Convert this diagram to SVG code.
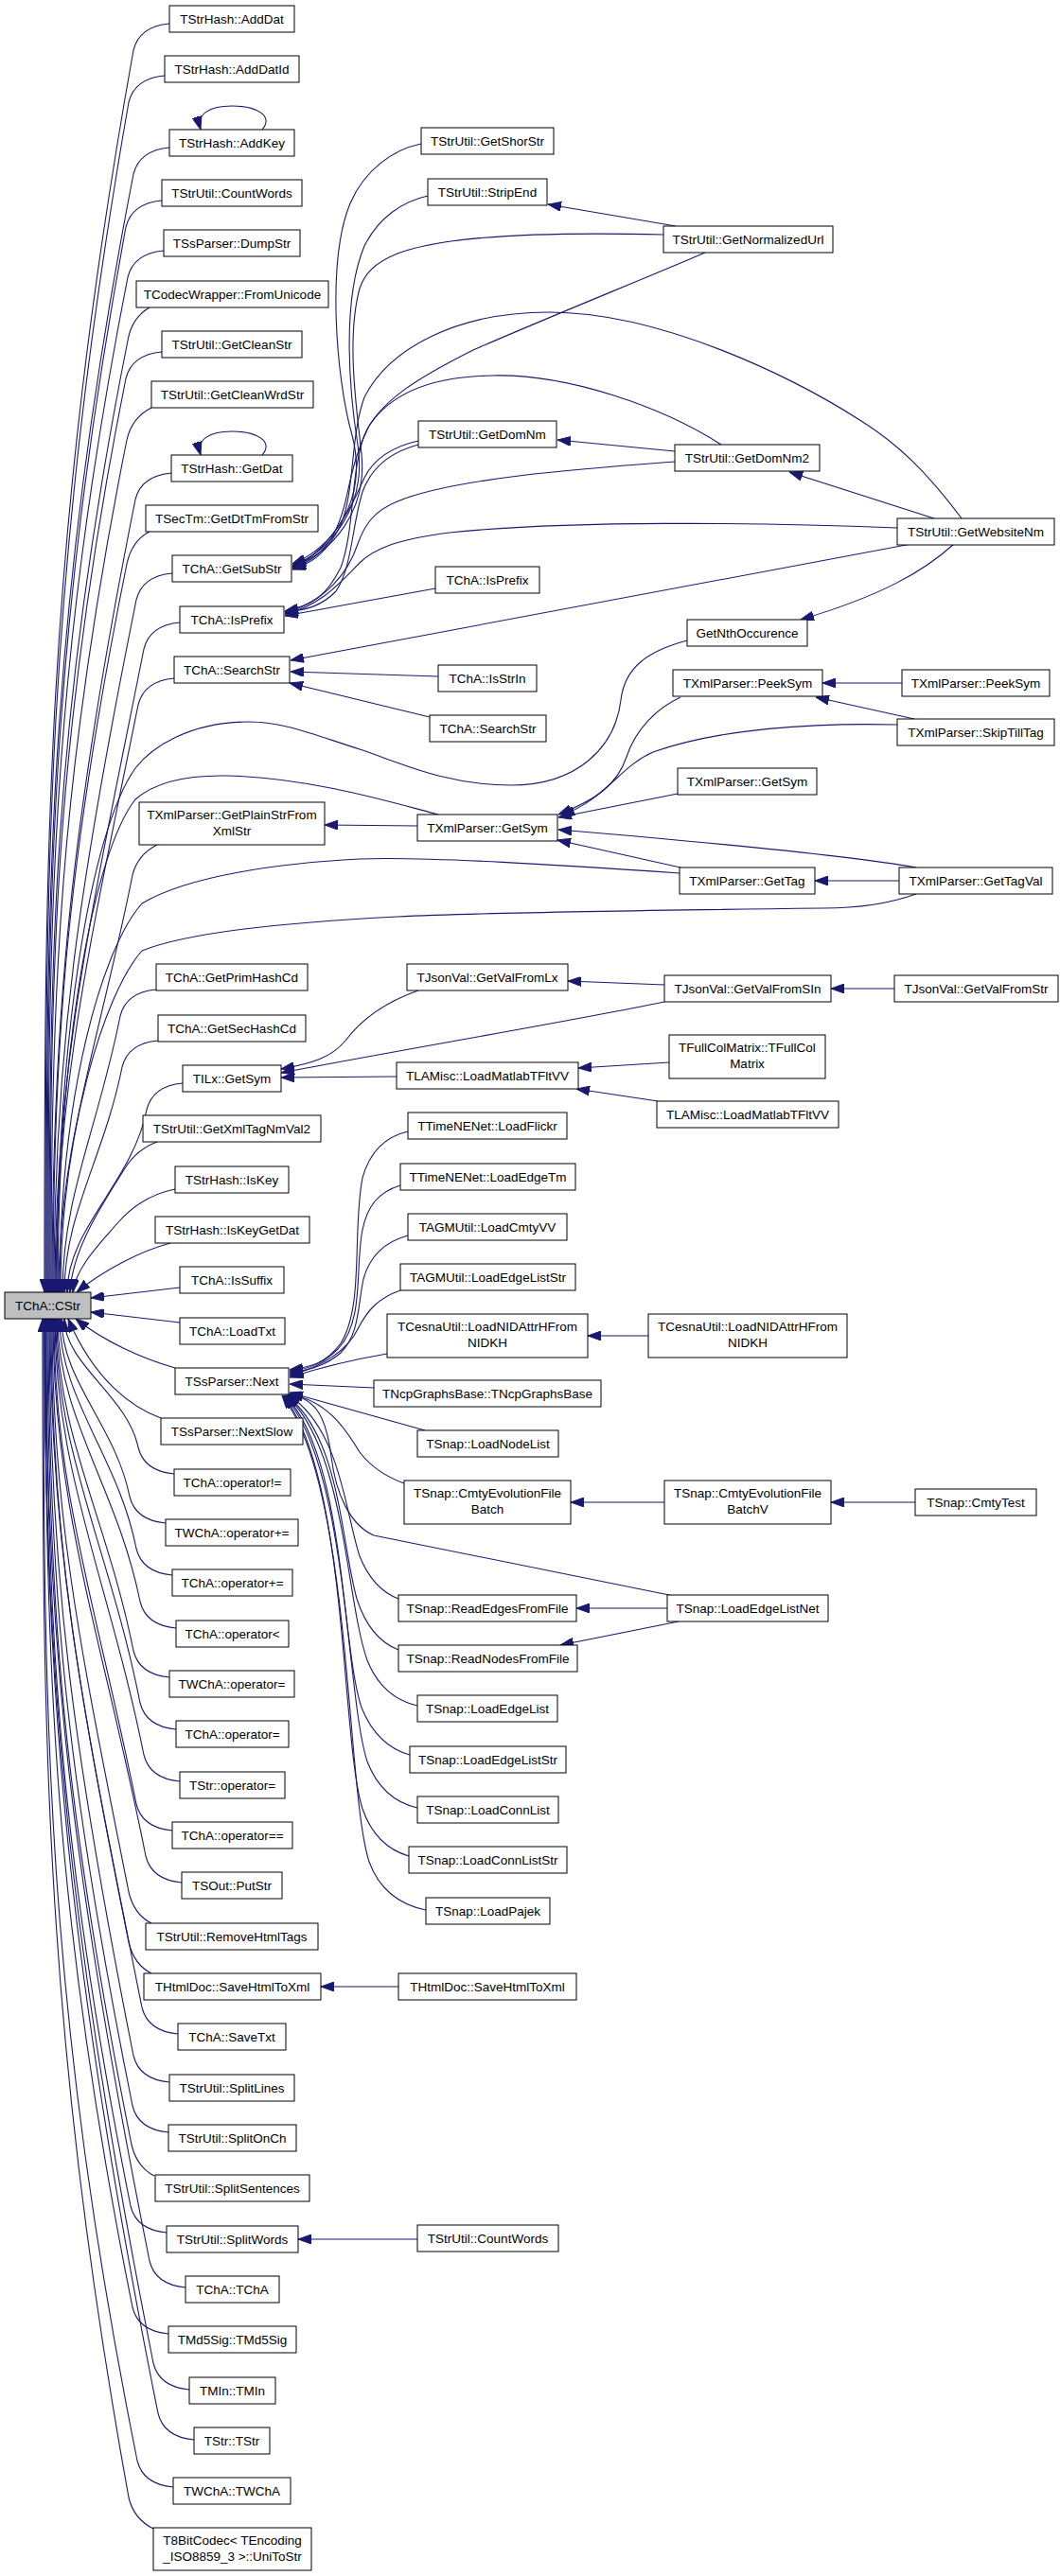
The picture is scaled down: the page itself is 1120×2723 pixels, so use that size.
<svg xmlns="http://www.w3.org/2000/svg" width="1120" height="2723" viewBox="0 0 1120 2723">
<defs>
<marker id="a" markerWidth="14" markerHeight="10" refX="14" refY="5" orient="auto" markerUnits="userSpaceOnUse"><path d="M0,0 L14,5 L0,10 z" fill="#191970" stroke="#191970" stroke-width="1"/></marker>
</defs>
<style>
.n rect{fill:#fff;stroke:#000;stroke-width:1}
.n text{font-family:"Liberation Sans",Arial,sans-serif;font-size:13.5px;text-anchor:middle;fill:#000}
#edges path{fill:none;stroke:#191970;stroke-width:1.1;marker-end:url(#a)}
#n_CStr rect{fill:#bfbfbf}
</style>
<rect x="0" y="0" width="1120" height="2723" fill="#fff"/>
<g id="edges">
<path d="M179,25 C157,27 145,37 141,53 C47,578 47,906 47,1366"/>
<path d="M174,80 C152,82 140,92 136,108 C48,611 48,926 48,1366"/>
<path d="M179,156 C157,158 145,168 141,184 C49,657 49,952 49,1366"/>
<path d="M171,212 C149,214 137,224 133,240 C50,690 50,972 50,1366"/>
<path d="M173,265 C151,267 139,277 135,293 C51,722 51,990 51,1366"/>
<path d="M158,325 C146,332 138,342 135,360 C55,762 52,1014 52,1366"/>
<path d="M171,372 C149,374 137,384 133,400 C56,786 53,1028 53,1366"/>
<path d="M160,431 C148,437 138,447 134,465 C62,825 54,1051 54,1366"/>
<path d="M181,500 C159,502 147,512 143,528 C76,863 55,1073 55,1366"/>
<path d="M158,562 C146,568 138,578 134,596 C72,904 56,1096 56,1366"/>
<path d="M182,606 C160,608 148,618 144,634 C85,927 57,1110 57,1366"/>
<path d="M190,658 C168,660 156,670 152,686 C98,958 58,1128 58,1366"/>
<path d="M184,717 C162,719 150,729 146,745 C96,993 59,1149 59,1366"/>
<path d="M726,677 C685,688 660,705 656,740 C650,790 610,830 540,830 C470,830 420,805 380,792 C330,776 300,763 263,763 C200,763 160,790 143,812 C95,880 60,1100 60,1366"/>
<path d="M463,861 C420,850 330,822 240,820 C190,819 160,830 143,845 C100,900 61,1100 61,1366"/>
<path d="M166,893 C154,899 144,909 140,925 C105,1101 62,1212 62,1366"/>
<path d="M718,923 C600,915 450,905 380,908 C300,912 200,925 150,955 C110,1000 63,1150 63,1366"/>
<path d="M968,945 C940,955 910,960 870,960 C700,962 500,965 420,969 C300,975 200,985 150,1005 C110,1050 64,1200 64,1366"/>
<path d="M165,1046 C143,1048 131,1058 127,1074 C104,1191 66,1264 66,1366"/>
<path d="M167,1100 C145,1102 133,1112 129,1128 C110,1223 68,1283 68,1366"/>
<path d="M193,1145 C171,1147 159,1157 155,1173 C140,1250 71,1298 71,1366"/>
<path d="M166,1207 C150,1213 140,1222 132,1235 C110,1270 76,1320 74,1366"/>
<path d="M185,1257 C160,1262 140,1275 125,1292 C105,1315 80,1340 77,1366"/>
<path d="M180,1314 C150,1322 110,1342 81,1366"/>
<path d="M190,1361 L96,1372"/>
<path d="M190,1398 L96,1387"/>
<path d="M185,1446 C150,1436 110,1418 80,1394"/>
<path d="M170,1499 C140,1488 100,1460 72,1394"/>
<path d="M184,1558 C162,1556 150,1546 146,1530 C135,1476 68,1442 68,1394"/>
<path d="M175,1610 C153,1608 141,1598 137,1582 C122,1507 65,1460 65,1394"/>
<path d="M182,1665 C160,1663 148,1653 144,1637 C125,1540 63,1479 63,1394"/>
<path d="M186,1721 C164,1719 152,1709 148,1693 C124,1573 61,1499 61,1394"/>
<path d="M179,1773 C157,1771 145,1761 141,1745 C113,1605 60,1517 60,1394"/>
<path d="M186,1828 C164,1826 152,1816 148,1800 C116,1638 59,1536 59,1394"/>
<path d="M190,1883 C168,1881 156,1871 152,1855 C115,1671 58,1555 58,1394"/>
<path d="M182,1935 C160,1933 148,1923 144,1907 C103,1702 57,1574 57,1394"/>
<path d="M192,1990 C170,1988 158,1978 154,1962 C109,1735 56,1593 56,1394"/>
<path d="M160,2033 C148,2027 140,2017 136,2000 C88,1758 55,1606 55,1394"/>
<path d="M160,2086 C148,2080 140,2070 136,2053 C83,1789 54,1625 54,1394"/>
<path d="M188,2150 C166,2148 154,2138 150,2122 C92,1831 53,1649 53,1394"/>
<path d="M179,2201 C157,2199 145,2189 141,2173 C79,1861 52,1667 52,1394"/>
<path d="M178,2254 C156,2252 144,2242 140,2226 C73,1893 51,1685 51,1394"/>
<path d="M163,2300 C151,2294 143,2284 139,2267 C69,1918 50,1700 50,1394"/>
<path d="M176,2360 C154,2358 142,2348 138,2332 C63,1957 49,1722 49,1394"/>
<path d="M196,2418 C174,2416 162,2406 158,2390 C78,1992 48,1743 48,1394"/>
<path d="M178,2467 C156,2465 144,2455 140,2439 C56,2021 48,1760 48,1394"/>
<path d="M200,2526 C178,2524 166,2514 162,2498 C74,2056 47,1780 47,1394"/>
<path d="M205,2579 C183,2577 171,2567 167,2551 C74,2088 47,1799 47,1394"/>
<path d="M183,2629 C161,2627 149,2617 145,2601 C48,2118 46,1816 46,1394"/>
<path d="M162,2673 C150,2667 140,2657 136,2640 C46,2142 45,1830 45,1394"/>
<path d="M277,137 C290,122 270,112 245,112 C222,112 207,120 212,137"/>
<path d="M277,481 C290,466 270,456 245,456 C222,456 207,464 212,481"/>
<path d="M445,152 C415,158 385,180 370,215 C345,275 355,400 372,460 C390,530 350,580 309,596"/>
<path d="M452,207 C425,213 400,230 385,260 C360,320 370,420 378,470 C388,535 350,582 309,598"/>
<path d="M701,248 C620,246 480,245 420,268 C395,278 385,290 380,305 C365,360 378,440 382,480 C388,540 352,584 309,599"/>
<path d="M442,466 C415,472 395,485 385,505 C370,540 345,585 309,600"/>
<path d="M762,470 C700,430 600,395 520,397 C450,398 410,420 390,450 C375,480 372,500 365,530 C355,570 340,590 309,601"/>
<path d="M1016,548 C980,500 950,470 910,445 C840,400 700,330 580,330 C480,330 410,370 385,420 C370,460 375,520 360,555 C345,585 330,595 309,602"/>
<path d="M745,267 C680,295 580,335 500,370 C440,400 400,425 385,460 C370,500 375,560 360,600 C345,630 330,640 301,646"/>
<path d="M442,470 C412,478 392,495 383,520 C372,555 372,600 355,625 C340,640 325,645 301,647"/>
<path d="M713,488 C620,495 480,505 420,530 C395,540 385,555 378,575 C368,605 345,635 301,648"/>
<path d="M948,558 C800,552 600,550 475,563 C420,570 395,580 380,595 C360,615 340,640 301,649"/>
<path d="M460,622 L301,651"/>
<path d="M963,575 L307,698"/>
<path d="M463,715 L307,710"/>
<path d="M454,758 L306,722"/>
<path d="M714,239 L579,216"/>
<path d="M713,477 L589,465"/>
<path d="M987,548 L834,499"/>
<path d="M1008,575 C975,605 930,630 846,655"/>
<path d="M441,873 L343,872"/>
<path d="M719,737 C695,748 672,770 662,800 C652,830 630,845 590,861"/>
<path d="M948,766 C860,764 760,770 690,795 C655,810 640,845 593,862"/>
<path d="M716,839 L590,864"/>
<path d="M968,917 C900,905 780,893 590,877"/>
<path d="M719,917 L589,888"/>
<path d="M953,722 L869,722"/>
<path d="M966,760 L862,737"/>
<path d="M950,931 L861,931"/>
<path d="M442,1047 C405,1060 380,1080 365,1100 C350,1118 330,1124 297,1130"/>
<path d="M702,1059 C600,1080 450,1105 297,1134"/>
<path d="M419,1138 L297,1139"/>
<path d="M702,1041 L600,1037"/>
<path d="M945,1045 L878,1045"/>
<path d="M707,1123 L611,1129"/>
<path d="M695,1164 L609,1151"/>
<path d="M431,1196 C405,1202 390,1220 383,1245 C372,1300 385,1380 360,1420 C345,1440 330,1445 306,1448"/>
<path d="M423,1253 C400,1260 388,1275 383,1300 C375,1340 385,1395 358,1425 C343,1440 330,1446 306,1450"/>
<path d="M431,1306 C405,1313 390,1330 384,1352 C378,1380 380,1410 360,1430 C345,1443 330,1447 306,1452"/>
<path d="M423,1364 C400,1372 388,1385 378,1405 C368,1425 345,1443 306,1454"/>
<path d="M409,1431 C380,1436 340,1445 306,1456"/>
<path d="M395,1467 L306,1463"/>
<path d="M449,1512 L306,1472"/>
<path d="M427,1568 C405,1560 390,1548 380,1535 C365,1510 345,1480 306,1474"/>
<path d="M712,1687 L395,1623 C370,1612 355,1580 350,1540 C345,1500 335,1478 305,1474"/>
<path d="M421,1690 C400,1682 388,1665 380,1645 C365,1600 360,1510 304,1474"/>
<path d="M421,1744 C398,1735 385,1715 377,1690 C360,1630 360,1520 303,1475"/>
<path d="M441,1803 C415,1797 398,1780 388,1755 C365,1690 365,1530 302,1475"/>
<path d="M433,1855 C408,1848 392,1830 382,1805 C360,1740 365,1540 301,1475"/>
<path d="M441,1911 C415,1905 398,1888 388,1862 C365,1790 368,1550 300,1475"/>
<path d="M432,1962 C408,1955 392,1938 383,1912 C360,1840 368,1560 299,1475"/>
<path d="M450,2019 C420,2013 400,1995 390,1968 C365,1890 372,1570 298,1475"/>
<path d="M685,1412 L621,1412"/>
<path d="M702,1588 L603,1588"/>
<path d="M967,1588 L878,1588"/>
<path d="M705,1700 L609,1700"/>
<path d="M717,1714 L592,1739"/>
<path d="M421,2100 L339,2100"/>
<path d="M441,2367 L315,2367"/>
</g>
<g id="n_CStr" class="n"><rect x="5" y="1366" width="91" height="28"/><text x="50.5" y="1385">TChA::CStr</text></g>
<g id="n_AddDat" class="n"><rect x="179" y="6" width="132" height="28"/><text x="245" y="25">TStrHash::AddDat</text></g>
<g id="n_AddDatId" class="n"><rect x="174" y="59" width="142" height="28"/><text x="245" y="78">TStrHash::AddDatId</text></g>
<g id="n_AddKey" class="n"><rect x="179" y="137" width="132" height="28"/><text x="245" y="156">TStrHash::AddKey</text></g>
<g id="n_CountWords" class="n"><rect x="171" y="190" width="148" height="28"/><text x="245" y="209">TStrUtil::CountWords</text></g>
<g id="n_DumpStr" class="n"><rect x="173" y="243" width="144" height="28"/><text x="245" y="262">TSsParser::DumpStr</text></g>
<g id="n_FromUnicode" class="n"><rect x="144" y="297" width="203" height="28"/><text x="245.5" y="316">TCodecWrapper::FromUnicode</text></g>
<g id="n_GetCleanStr" class="n"><rect x="171" y="350" width="148" height="28"/><text x="245" y="369">TStrUtil::GetCleanStr</text></g>
<g id="n_GetCleanWrdStr" class="n"><rect x="160" y="403" width="171" height="28"/><text x="245.5" y="422">TStrUtil::GetCleanWrdStr</text></g>
<g id="n_GetDat" class="n"><rect x="181" y="481" width="128" height="28"/><text x="245" y="500">TStrHash::GetDat</text></g>
<g id="n_GetDtTmFromStr" class="n"><rect x="154" y="534" width="182" height="28"/><text x="245" y="553">TSecTm::GetDtTmFromStr</text></g>
<g id="n_GetSubStr" class="n"><rect x="182" y="587" width="126" height="28"/><text x="245" y="606">TChA::GetSubStr</text></g>
<g id="n_IsPrefix" class="n"><rect x="190" y="641" width="110" height="28"/><text x="245" y="660">TChA::IsPrefix</text></g>
<g id="n_SearchStr" class="n"><rect x="184" y="694" width="122" height="28"/><text x="245" y="713">TChA::SearchStr</text></g>
<g id="n_GetPlainStr" class="n"><rect x="147" y="848" width="196" height="45"/><text x="245" y="866">TXmlParser::GetPlainStrFrom</text><text x="245" y="883">XmlStr</text></g>
<g id="n_GetPrimHashCd" class="n"><rect x="165" y="1019" width="160" height="28"/><text x="245" y="1038">TChA::GetPrimHashCd</text></g>
<g id="n_GetSecHashCd" class="n"><rect x="167" y="1073" width="156" height="28"/><text x="245" y="1092">TChA::GetSecHashCd</text></g>
<g id="n_TILxGetSym" class="n"><rect x="193" y="1126" width="104" height="28"/><text x="245" y="1145">TILx::GetSym</text></g>
<g id="n_GetXmlTagNmVal2" class="n"><rect x="151" y="1179" width="188" height="28"/><text x="245" y="1198">TStrUtil::GetXmlTagNmVal2</text></g>
<g id="n_IsKey" class="n"><rect x="185" y="1233" width="120" height="28"/><text x="245" y="1252">TStrHash::IsKey</text></g>
<g id="n_IsKeyGetDat" class="n"><rect x="164" y="1286" width="163" height="28"/><text x="245.5" y="1305">TStrHash::IsKeyGetDat</text></g>
<g id="n_IsSuffix" class="n"><rect x="190" y="1339" width="110" height="28"/><text x="245" y="1358">TChA::IsSuffix</text></g>
<g id="n_LoadTxt" class="n"><rect x="190" y="1393" width="111" height="28"/><text x="245.5" y="1412">TChA::LoadTxt</text></g>
<g id="n_Next" class="n"><rect x="185" y="1446" width="120" height="28"/><text x="245" y="1465">TSsParser::Next</text></g>
<g id="n_NextSlow" class="n"><rect x="170" y="1499" width="150" height="28"/><text x="245" y="1518">TSsParser::NextSlow</text></g>
<g id="n_OpNe" class="n"><rect x="184" y="1553" width="123" height="28"/><text x="245.5" y="1572">TChA::operator!=</text></g>
<g id="n_WOpPlusEq" class="n"><rect x="175" y="1606" width="140" height="28"/><text x="245" y="1625">TWChA::operator+=</text></g>
<g id="n_OpPlusEq" class="n"><rect x="182" y="1659" width="127" height="28"/><text x="245.5" y="1678">TChA::operator+=</text></g>
<g id="n_OpLt" class="n"><rect x="186" y="1713" width="119" height="28"/><text x="245.5" y="1732">TChA::operator&lt;</text></g>
<g id="n_WOpEq" class="n"><rect x="179" y="1766" width="132" height="28"/><text x="245" y="1785">TWChA::operator=</text></g>
<g id="n_OpEq" class="n"><rect x="186" y="1819" width="119" height="28"/><text x="245.5" y="1838">TChA::operator=</text></g>
<g id="n_TStrOpEq" class="n"><rect x="190" y="1873" width="111" height="28"/><text x="245.5" y="1892">TStr::operator=</text></g>
<g id="n_OpEqEq" class="n"><rect x="182" y="1926" width="127" height="28"/><text x="245.5" y="1945">TChA::operator==</text></g>
<g id="n_PutStr" class="n"><rect x="192" y="1979" width="106" height="28"/><text x="245" y="1998">TSOut::PutStr</text></g>
<g id="n_RemoveHtmlTags" class="n"><rect x="154" y="2033" width="182" height="28"/><text x="245" y="2052">TStrUtil::RemoveHtmlTags</text></g>
<g id="n_SaveHtmlToXml" class="n"><rect x="152" y="2086" width="187" height="28"/><text x="245.5" y="2105">THtmlDoc::SaveHtmlToXml</text></g>
<g id="n_SaveTxt" class="n"><rect x="188" y="2139" width="114" height="28"/><text x="245" y="2158">TChA::SaveTxt</text></g>
<g id="n_SplitLines" class="n"><rect x="179" y="2193" width="132" height="28"/><text x="245" y="2212">TStrUtil::SplitLines</text></g>
<g id="n_SplitOnCh" class="n"><rect x="178" y="2246" width="135" height="28"/><text x="245.5" y="2265">TStrUtil::SplitOnCh</text></g>
<g id="n_SplitSentences" class="n"><rect x="164" y="2299" width="163" height="28"/><text x="245.5" y="2318">TStrUtil::SplitSentences</text></g>
<g id="n_SplitWords" class="n"><rect x="176" y="2353" width="139" height="28"/><text x="245.5" y="2372">TStrUtil::SplitWords</text></g>
<g id="n_TChA" class="n"><rect x="196" y="2406" width="99" height="28"/><text x="245.5" y="2425">TChA::TChA</text></g>
<g id="n_TMd5Sig" class="n"><rect x="178" y="2459" width="135" height="28"/><text x="245.5" y="2478">TMd5Sig::TMd5Sig</text></g>
<g id="n_TMIn" class="n"><rect x="200" y="2513" width="91" height="28"/><text x="245.5" y="2532">TMIn::TMIn</text></g>
<g id="n_TStr" class="n"><rect x="205" y="2566" width="80" height="28"/><text x="245" y="2585">TStr::TStr</text></g>
<g id="n_TWChA" class="n"><rect x="183" y="2619" width="124" height="28"/><text x="245" y="2638">TWChA::TWChA</text></g>
<g id="n_T8Bit" class="n"><rect x="162" y="2672" width="167" height="45"/><text x="245.5" y="2690">T8BitCodec&lt; TEncoding</text><text x="245.5" y="2707">_ISO8859_3 &gt;::UniToStr</text></g>
<g id="n_GetShorStr" class="n"><rect x="445" y="135" width="140" height="28"/><text x="515" y="154">TStrUtil::GetShorStr</text></g>
<g id="n_StripEnd" class="n"><rect x="452" y="189" width="126" height="28"/><text x="515" y="208">TStrUtil::StripEnd</text></g>
<g id="n_GetDomNm" class="n"><rect x="442" y="445" width="146" height="28"/><text x="515" y="464">TStrUtil::GetDomNm</text></g>
<g id="n_IsPrefix3" class="n"><rect x="460" y="599" width="110" height="28"/><text x="515" y="618">TChA::IsPrefix</text></g>
<g id="n_IsStrIn" class="n"><rect x="463" y="703" width="104" height="28"/><text x="515" y="722">TChA::IsStrIn</text></g>
<g id="n_SearchStr3" class="n"><rect x="454" y="756" width="123" height="28"/><text x="515.5" y="775">TChA::SearchStr</text></g>
<g id="n_XmlGetSym3" class="n"><rect x="441" y="861" width="148" height="28"/><text x="515" y="880">TXmlParser::GetSym</text></g>
<g id="n_GetValFromLx" class="n"><rect x="430" y="1019" width="170" height="28"/><text x="515" y="1038">TJsonVal::GetValFromLx</text></g>
<g id="n_LoadMatlab3" class="n"><rect x="419" y="1123" width="192" height="28"/><text x="515" y="1142">TLAMisc::LoadMatlabTFltVV</text></g>
<g id="n_LoadFlickr" class="n"><rect x="431" y="1176" width="168" height="28"/><text x="515" y="1195">TTimeNENet::LoadFlickr</text></g>
<g id="n_LoadEdgeTm" class="n"><rect x="423" y="1230" width="185" height="28"/><text x="515.5" y="1249">TTimeNENet::LoadEdgeTm</text></g>
<g id="n_LoadCmtyVV" class="n"><rect x="431" y="1283" width="168" height="28"/><text x="515" y="1302">TAGMUtil::LoadCmtyVV</text></g>
<g id="n_AGMLoadEdgeListStr" class="n"><rect x="423" y="1336" width="185" height="28"/><text x="515.5" y="1355">TAGMUtil::LoadEdgeListStr</text></g>
<g id="n_Cesna3" class="n"><rect x="409" y="1389" width="212" height="46"/><text x="515" y="1407">TCesnaUtil::LoadNIDAttrHFrom</text><text x="515" y="1424">NIDKH</text></g>
<g id="n_Ncp" class="n"><rect x="395" y="1459" width="240" height="28"/><text x="515" y="1478">TNcpGraphsBase::TNcpGraphsBase</text></g>
<g id="n_LoadNodeList" class="n"><rect x="441" y="1512" width="149" height="28"/><text x="515.5" y="1531">TSnap::LoadNodeList</text></g>
<g id="n_CmtyEvolBatch" class="n"><rect x="427" y="1565" width="176" height="46"/><text x="515" y="1583">TSnap::CmtyEvolutionFile</text><text x="515" y="1600">Batch</text></g>
<g id="n_ReadEdges" class="n"><rect x="421" y="1686" width="188" height="28"/><text x="515" y="1705">TSnap::ReadEdgesFromFile</text></g>
<g id="n_ReadNodes" class="n"><rect x="421" y="1739" width="189" height="28"/><text x="515.5" y="1758">TSnap::ReadNodesFromFile</text></g>
<g id="n_LoadEdgeList" class="n"><rect x="441" y="1792" width="148" height="28"/><text x="515" y="1811">TSnap::LoadEdgeList</text></g>
<g id="n_LoadEdgeListStr" class="n"><rect x="433" y="1846" width="165" height="28"/><text x="515.5" y="1865">TSnap::LoadEdgeListStr</text></g>
<g id="n_LoadConnList" class="n"><rect x="441" y="1899" width="149" height="28"/><text x="515.5" y="1918">TSnap::LoadConnList</text></g>
<g id="n_LoadConnListStr" class="n"><rect x="432" y="1952" width="167" height="28"/><text x="515.5" y="1971">TSnap::LoadConnListStr</text></g>
<g id="n_LoadPajek" class="n"><rect x="450" y="2006" width="131" height="28"/><text x="515.5" y="2025">TSnap::LoadPajek</text></g>
<g id="n_SaveHtmlToXml3" class="n"><rect x="421" y="2086" width="188" height="28"/><text x="515" y="2105">THtmlDoc::SaveHtmlToXml</text></g>
<g id="n_CountWords3" class="n"><rect x="441" y="2352" width="149" height="28"/><text x="515.5" y="2371">TStrUtil::CountWords</text></g>
<g id="n_GetNormalizedUrl" class="n"><rect x="701" y="239" width="179" height="28"/><text x="790.5" y="258">TStrUtil::GetNormalizedUrl</text></g>
<g id="n_GetDomNm2" class="n"><rect x="713" y="470" width="153" height="28"/><text x="789.5" y="489">TStrUtil::GetDomNm2</text></g>
<g id="n_GetNthOccurence" class="n"><rect x="726" y="655" width="127" height="28"/><text x="789.5" y="674">GetNthOccurence</text></g>
<g id="n_PeekSym4" class="n"><rect x="711" y="708" width="158" height="28"/><text x="790" y="727">TXmlParser::PeekSym</text></g>
<g id="n_XmlGetSym4" class="n"><rect x="716" y="812" width="147" height="28"/><text x="789.5" y="831">TXmlParser::GetSym</text></g>
<g id="n_GetTag" class="n"><rect x="718" y="917" width="143" height="28"/><text x="789.5" y="936">TXmlParser::GetTag</text></g>
<g id="n_GetValFromSIn" class="n"><rect x="702" y="1031" width="176" height="28"/><text x="790" y="1050">TJsonVal::GetValFromSIn</text></g>
<g id="n_TFullColMatrix" class="n"><rect x="707" y="1094" width="165" height="46"/><text x="789.5" y="1112">TFullColMatrix::TFullCol</text><text x="789.5" y="1129">Matrix</text></g>
<g id="n_LoadMatlab4" class="n"><rect x="694" y="1164" width="192" height="28"/><text x="790" y="1183">TLAMisc::LoadMatlabTFltVV</text></g>
<g id="n_Cesna4" class="n"><rect x="685" y="1389" width="210" height="46"/><text x="790" y="1407">TCesnaUtil::LoadNIDAttrHFrom</text><text x="790" y="1424">NIDKH</text></g>
<g id="n_BatchV" class="n"><rect x="702" y="1565" width="176" height="46"/><text x="790" y="1583">TSnap::CmtyEvolutionFile</text><text x="790" y="1600">BatchV</text></g>
<g id="n_LoadEdgeListNet" class="n"><rect x="705" y="1686" width="170" height="28"/><text x="790" y="1705">TSnap::LoadEdgeListNet</text></g>
<g id="n_GetWebsiteNm" class="n"><rect x="948" y="548" width="166" height="28"/><text x="1031" y="567">TStrUtil::GetWebsiteNm</text></g>
<g id="n_PeekSym5" class="n"><rect x="953" y="708" width="156" height="28"/><text x="1031" y="727">TXmlParser::PeekSym</text></g>
<g id="n_SkipTillTag" class="n"><rect x="948" y="760" width="166" height="28"/><text x="1031" y="779">TXmlParser::SkipTillTag</text></g>
<g id="n_GetTagVal" class="n"><rect x="950" y="917" width="162" height="28"/><text x="1031" y="936">TXmlParser::GetTagVal</text></g>
<g id="n_GetValFromStr" class="n"><rect x="945" y="1031" width="173" height="28"/><text x="1031.5" y="1050">TJsonVal::GetValFromStr</text></g>
<g id="n_CmtyTest" class="n"><rect x="967" y="1574" width="128" height="28"/><text x="1031" y="1593">TSnap::CmtyTest</text></g>
</svg>
